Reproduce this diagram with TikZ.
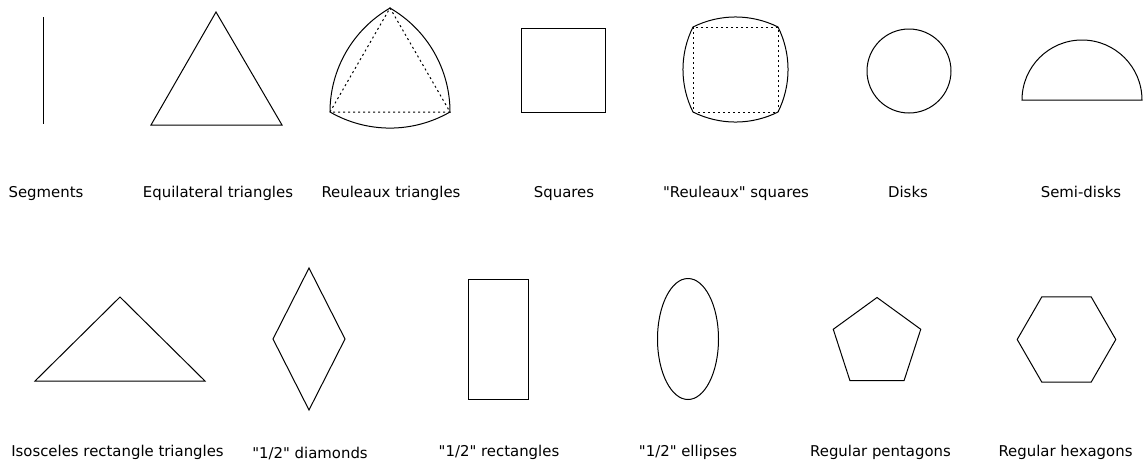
\documentclass[tikz,border=0pt]{standalone}
\usepackage{fontspec}
\setmainfont{DejaVu Sans}[Ligatures=TeXOff]
\usepackage{tikz}
\usetikzlibrary{positioning}

\tikzset{
  outline/.style={line width=0.5pt},
  guide/.style={line width=0.5pt, dash pattern=on 1pt off 1.5pt},
  lbl/.style={font=\fontsize{7.45}{9}\selectfont, anchor=base, inner sep=0pt}
}

\begin{document}
\begin{tikzpicture}[x=0.5pt, y=-0.5pt]
        \useasboundingbox (0,0) rectangle (1147,461);

        % Segment
        \draw[outline] (43,17) -- (43,124);
        \node[lbl] (seglbl) at (46,197) {Segments};

        % Equilateral triangle
        \draw[outline] (151,125) -- (216,12) -- (282,125) -- cycle;
        \node[lbl] (eqlbl) at (218,197) {Equilateral triangles};

        % Reuleaux triangle
        \draw[guide] (330,112) -- (390,8) -- (450,112) -- cycle;
        \draw[outline] (330,112) arc[start angle=180, end angle=240, radius=120]
                arc[start angle=300, end angle=360, radius=120]
                arc[start angle=60, end angle=120, radius=120] -- cycle;
        \node[lbl] (reultrilbl) at (391,197) {Reuleaux triangles};

        % Square
        \draw[outline] (521,28) rectangle (605,112);
        \node[lbl] (sqlbl) at (564,197) {Squares};

        % "Reuleaux" square
        \draw[guide] (693,27) rectangle (778,112);
        \draw[outline] (693,27) arc[start angle=243.43, end angle=296.57, radius=95.03]
                arc[start angle=-26.57, end angle=26.57, radius=95.03]
                arc[start angle=63.43, end angle=116.57, radius=95.03]
                arc[start angle=153.43, end angle=206.57, radius=95.03] -- cycle;
        \node[lbl] (reulsqlbl) at (736,197) {"Reuleaux" squares};

        % Disk
        \draw[outline] (909,71) circle[radius=42];
        \node[lbl] (disklbl) at (908,197) {Disks};

        % Semi-disk
        \draw[outline] (1022,100) arc[start angle=180, end angle=360, radius=60] -- cycle;
        \node[lbl] (semilbl) at (1081,197) {Semi-disks};

        % Isosceles rectangle triangle
        \draw[outline] (35,381) -- (120,297) -- (205,381) -- cycle;
        \node[lbl] (isolbl) at (117.5,456) {Isosceles rectangle triangles};

        % "1/2" diamond
        \draw[outline] (309,268) -- (345,339) -- (309,410) -- (273,339) -- cycle;
        \node[lbl] (diamlbl) at (310,458) {"1/2" diamonds};

        % "1/2" rectangle
        \draw[outline] (468,279) rectangle (528,399);
        \node[lbl] (rectlbl) at (499,456) {"1/2" rectangles};

        % "1/2" ellipse
        \draw[outline] (688,339) ellipse[x radius=30.5, y radius=60.5];
        \node[lbl] (elllbl) at (688,456) {"1/2" ellipses};

        % Regular pentagon
        \begin{scope}[shift={(877,343.5)}]
          \draw[outline] (-90:46) -- (-18:46) -- (54:46) -- (126:46) -- (198:46) -- cycle;
        \end{scope}
        \node[lbl] (pentlbl) at (880.5,456) {Regular pentagons};

        % Regular hexagon
        \begin{scope}[shift={(1066.5,339.5)}]
          \draw[outline] (0:49.3) -- (60:49.3) -- (120:49.3) -- (180:49.3) -- (240:49.3) -- (300:49.3) -- cycle;
        \end{scope}
        \node[lbl] (hexlbl) at (1065.5,456) {Regular hexagons};
\end{tikzpicture}
\end{document}
